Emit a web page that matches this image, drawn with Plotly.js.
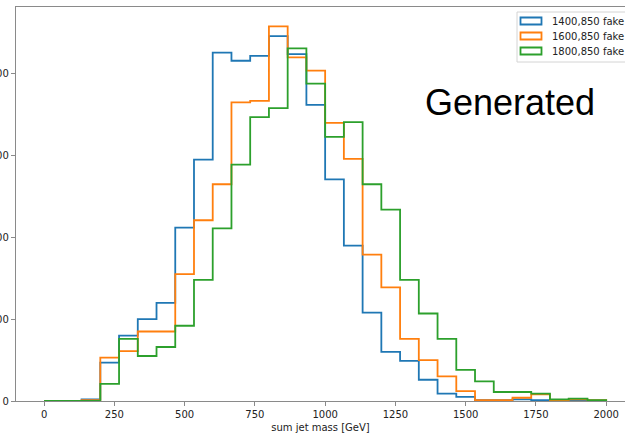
<!DOCTYPE html>
<html>
<head>
<meta charset="utf-8">
<script src="https://cdn.plot.ly/plotly-3.0.1.min.js"></script>
<style>
html, body { margin: 0; padding: 0; background: #fff; }
#chart { width: 625px; height: 434px; }
</style>
</head>
<body>
<div id="chart"></div>
<script>
// Histogram binning: 30 bins spanning 0 .. 2000 GeV
const binStart = 0;
const binEnd = 2000;
const nBins = 30;

const seriesNames = ["1400,850 fake", "1600,850 fake", "1800,850 fake"];
const seriesColors = ["#1f77b4", "#ff7f0e", "#2ca02c"];

// Counts per bin
const counts1400 = [0, 0, 2, 47, 80, 100, 120, 212, 295, 426, 416, 422, 446, 424, 362,
                    271, 190, 108, 60, 49, 26, 9, 5, 1, 1, 2, 1, 0, 0, 0];
const counts1600 = [0, 0, 1, 53, 61, 85, 85, 155, 221, 265, 365, 367, 458, 420, 404,
                    340, 296, 179, 139, 76, 50, 30, 12, 1, 1, 4, 8, 1, 2, 1];
const counts1800 = [0, 0, 0, 21, 76, 55, 66, 92, 148, 211, 289, 347, 358, 431, 388,
                    323, 341, 265, 234, 148, 107, 76, 38, 24, 11, 11, 9, 2, 3, 1];

const xTickVals = [0, 250, 500, 750, 1000, 1250, 1500, 1750, 2000];
const yTickVals = [0, 100, 200, 300, 400];
const xTitle = "sum jet mass [GeV]";
const overlayText = "Generated";

const allCounts = [counts1400, counts1600, counts1800];

// bin edges
const edges = [];
for (let k = 0; k <= nBins; k++) edges.push(binStart + k * (binEnd - binStart) / nBins);

function stepTrace(counts, name, color) {
  const xs = [edges[0]];
  const ys = [0];
  for (let i = 0; i < counts.length; i++) { xs.push(edges[i]); ys.push(counts[i]); }
  xs.push(edges[nBins]); ys.push(0);
  return {
    type: "scatter", mode: "lines", x: xs, y: ys, name: name,
    line: { shape: "hv", color: color, width: 1.8 },
    showlegend: false, hoverinfo: "skip"
  };
}

const traces = allCounts.map((c, i) => stepTrace(c, seriesNames[i], seriesColors[i]));

// pixel-to-paper helpers for layout decorations
const W = 625, H = 434;
const mL = 16, mR = 0, mT = 7, mB = 33;
const pw = W - mL - mR, ph = H - mT - mB;
const px = v => (v - mL) / pw;
const py = v => (H - mB - v) / ph;

const shapes = [];
const annotations = [];
// legend frame
shapes.push({ type: "rect", xref: "paper", yref: "paper",
  x0: px(517), x1: px(660), y0: py(62), y1: py(12),
  line: { color: "#d4d4d4", width: 1 }, fillcolor: "rgba(255,255,255,0.8)" });
const rowY = [21, 36, 51];
seriesNames.forEach((n, i) => {
  shapes.push({ type: "rect", xref: "paper", yref: "paper",
    x0: px(520.5), x1: px(541.5), y0: py(rowY[i] + 3.5), y1: py(rowY[i] - 3.5),
    line: { color: seriesColors[i], width: 1.8 }, fillcolor: "rgba(0,0,0,0)" });
  annotations.push({ xref: "paper", yref: "paper", x: px(550), y: py(rowY[i]),
    xanchor: "left", yanchor: "middle", text: n, showarrow: false,
    font: { family: "DejaVu Sans", size: 10, color: "#222" } });
});
annotations.push({ xref: "paper", yref: "paper", x: px(510), y: py(103),
  xanchor: "center", yanchor: "middle", text: overlayText, showarrow: false,
  font: { family: "Liberation Sans, Arial", size: 36, color: "#000" } });

const axisColor = "#8a8a8a";
const layout = {
  width: W, height: H,
  margin: { l: mL, r: mR, t: mT, b: mB, pad: 0 },
  paper_bgcolor: "#fff", plot_bgcolor: "#fff",
  showlegend: false,
  font: { family: "DejaVu Sans", size: 10, color: "#222" },
  xaxis: {
    range: [-100, 2067], tickvals: xTickVals, ticktext: xTickVals.map(String),
    ticks: "outside", ticklen: 4, tickwidth: 1, tickcolor: axisColor,
    showline: true, linecolor: axisColor, linewidth: 1.2, mirror: true,
    showgrid: false, zeroline: false, automargin: false,
    tickfont: { family: "DejaVu Sans", size: 10, color: "#222" },
    title: { text: xTitle, standoff: 4, font: { family: "DejaVu Sans", size: 10, color: "#222" } },
    layer: "below traces"
  },
  yaxis: {
    range: [0, 481.7], tickvals: yTickVals, ticktext: yTickVals.map(String),
    ticks: "outside", ticklen: 4, tickwidth: 1, tickcolor: axisColor,
    showline: true, linecolor: axisColor, linewidth: 1.2, mirror: false,
    showgrid: false, zeroline: false, automargin: false,
    tickfont: { family: "DejaVu Sans", size: 10, color: "#222" },
    layer: "below traces"
  },
  shapes: shapes,
  annotations: annotations
};

Plotly.newPlot("chart", traces, layout, { displayModeBar: false, staticPlot: true });
</script>
</body>
</html>
